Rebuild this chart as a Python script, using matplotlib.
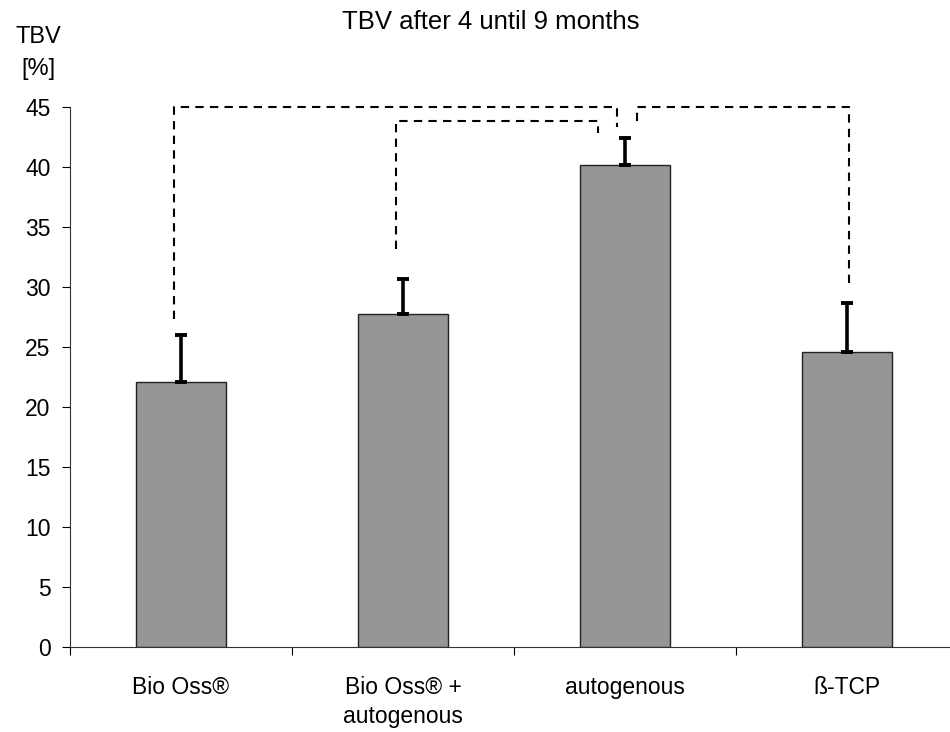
import numpy as np
import matplotlib.pyplot as plt

plt.rcParams['font.family'] = ['Liberation Sans', 'DejaVu Sans']

categories = ['Bio Oss®', 'Bio Oss® +\nautogenous', 'autogenous', 'ß-TCP']
tbv = [22.1, 27.7, 40.1, 24.6]
sd_up = [3.9, 2.9, 2.3, 4.0]

# significance brackets: start x, start y, top y, end x, end y
br_x0 = [-0.03, 0.97, 3.01]
br_y0 = [27.3, 33.1, 30.3]
br_top = [45.0, 43.8, 45.0]
br_x1 = [1.963, 1.878, 2.053]
br_y1 = [43.3, 42.8, 43.7]

fig = plt.figure(figsize=(9.5, 7.32), dpi=100)
ax = fig.add_axes([70/950, 85/732, 888/950, 540.5/732])

x = np.arange(len(categories))
ax.bar(x, tbv, width=0.405, color='#969696', edgecolor='#222222', linewidth=1.0, zorder=2)
ax.errorbar(x, tbv, yerr=[np.zeros(len(tbv)), sd_up], fmt='none', ecolor='black',
            elinewidth=2.6, capsize=4.5, capthick=2.8, zorder=3)

for i in range(len(br_x0)):
    ax.plot([br_x0[i], br_x0[i], br_x1[i], br_x1[i]],
            [br_y0[i], br_top[i], br_top[i], br_y1[i]],
            color='black', lw=1.5, dashes=(4, 3), zorder=4, clip_on=False)

ax.set_xlim(-0.5, 3.5)
ax.set_ylim(0, 45)
ax.set_yticks(np.arange(0, 46, 5))
ax.set_xticks(x)
ax.set_xticklabels(categories, fontsize=16.5, linespacing=1.35)
ax.set_xticks(np.arange(-0.5, 4, 1), minor=True)
ax.tick_params(axis='x', which='major', length=0, pad=21)
ax.tick_params(axis='x', which='minor', length=6, width=0.8, direction='out')
ax.tick_params(axis='y', labelsize=16.5, length=6, width=0.8, pad=8)
ax.spines['top'].set_visible(False)
ax.spines['right'].set_visible(False)
for s in ['left', 'bottom']:
    ax.spines[s].set_linewidth(0.8)
    ax.spines[s].set_color('#333333')

fig.text(491/950, 1 - 22/732, 'TBV after 4 until 9 months', ha='center', va='center', fontsize=18.5)
fig.text(38/950, 1 - 37/732, 'TBV', ha='center', va='center', fontsize=17)
fig.text(38/950, 1 - 69/732, '[%]', ha='center', va='center', fontsize=17)

fig.savefig('out.png', dpi=100)
